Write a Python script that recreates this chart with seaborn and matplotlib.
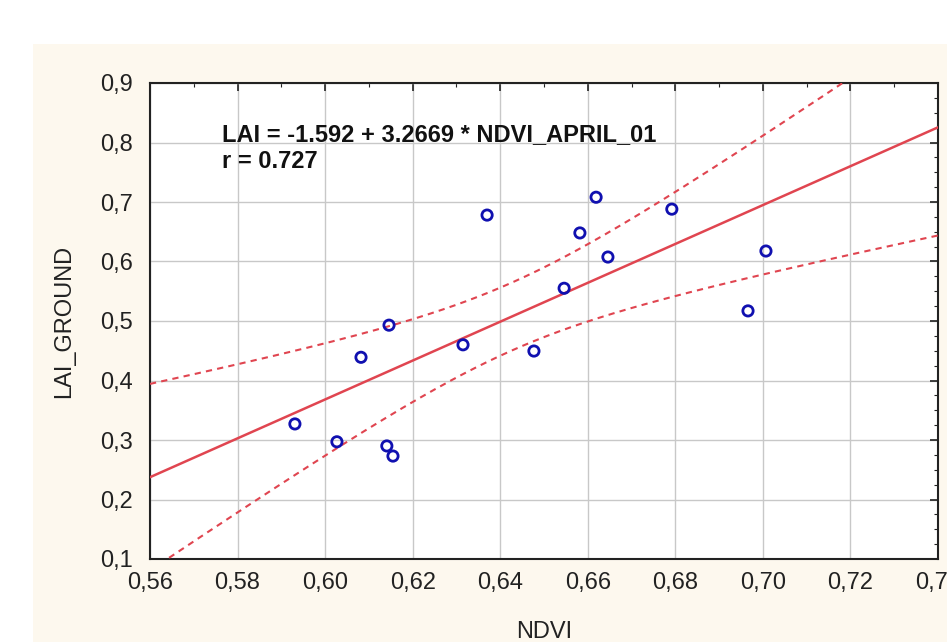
import numpy as np
import pandas as pd
import seaborn as sns
import matplotlib
matplotlib.use("Agg")
import matplotlib.pyplot as plt
from matplotlib.ticker import MultipleLocator, FuncFormatter
from matplotlib.patches import Rectangle

# values
ndvi = [0.5931, 0.6027, 0.6082, 0.6141, 0.6155, 0.6146, 0.6315, 0.6370,
        0.6477, 0.6546, 0.6582, 0.6619, 0.6646, 0.6792, 0.6966, 0.7007]
lai = [0.327, 0.297, 0.439, 0.290, 0.273, 0.493, 0.460, 0.678,
       0.4495, 0.555, 0.648, 0.708, 0.6075, 0.688, 0.517, 0.6176]

# regression as printed on the chart
intercept = -1.592
slope = 3.2669
r_value = 0.727
t_crit = 2.145  # t(0.975, n-2=14)

x_range = (0.56, 0.74)
y_range = (0.1, 0.9)

sns.set_style("white")
plt.rcParams["font.family"] = ["Liberation Sans", "DejaVu Sans"]

df = pd.DataFrame({"NDVI": ndvi, "LAI_GROUND": lai})

# fitted line and 95% confidence band of the mean
x = np.array(ndvi)
y = np.array(lai)
n = len(x)
resid = y - (intercept + slope * x)
s = np.sqrt(np.sum(resid ** 2) / (n - 2))
sxx = np.sum((x - x.mean()) ** 2)
xs = np.linspace(x_range[0], x_range[1], 200)
fit = intercept + slope * xs
half = t_crit * s * np.sqrt(1 / n + (xs - x.mean()) ** 2 / sxx)
band = pd.DataFrame({"x": xs, "fit": fit, "lo": fit - half, "hi": fit + half})

fig = plt.figure(figsize=(9.47, 6.42), dpi=100)
fig.patches.append(Rectangle((33 / 947, 0), 1, 1 - 44 / 642, transform=fig.transFigure,
                             facecolor="#fdf8ee", edgecolor="none", zorder=-10))
ax = fig.add_axes([150 / 947, 1 - 559 / 642, 788 / 947, 476 / 642])
ax.set_facecolor("white")

red = "#e04550"
sns.lineplot(data=band, x="x", y="fit", color=red, lw=1.8, ax=ax, zorder=3)
sns.lineplot(data=band, x="x", y="lo", color=red, lw=1.5, ax=ax, zorder=3,
             linestyle=(0, (3, 2.5)))
sns.lineplot(data=band, x="x", y="hi", color=red, lw=1.5, ax=ax, zorder=3,
             linestyle=(0, (3, 2.5)))
sns.scatterplot(data=df, x="NDVI", y="LAI_GROUND", ax=ax, marker="o", s=55,
                facecolor="none", edgecolor="#1010b0", linewidth=2, zorder=4)

ax.set_xlim(*x_range)
ax.set_ylim(*y_range)
ax.xaxis.set_major_locator(MultipleLocator(0.02))
ax.xaxis.set_minor_locator(MultipleLocator(0.01))
ax.yaxis.set_major_locator(MultipleLocator(0.1))
ax.yaxis.set_minor_locator(MultipleLocator(0.025))
ax.xaxis.set_major_formatter(FuncFormatter(lambda v, p: f"{v:.2f}".replace(".", ",")))
ax.yaxis.set_major_formatter(FuncFormatter(lambda v, p: f"{v:.1f}".replace(".", ",")))
ax.tick_params(which="both", direction="in", top=True, right=True, colors="#222222",
               labelcolor="#222222")
ax.tick_params(which="major", length=6, width=1.2, labelsize=17)
ax.tick_params(which="minor", length=3, width=0.8)
ax.tick_params(axis="x", which="major", pad=9)
ax.tick_params(axis="y", which="major", pad=12)
ax.grid(True, which="major", color="#c8c8c8", lw=1)
for sp in ax.spines.values():
    sp.set_color("#222222")
    sp.set_linewidth(1.5)

ax.set_xlabel("NDVI", fontsize=17, color="#222222", labelpad=20)
ax.set_ylabel("LAI_GROUND", fontsize=17, color="#222222", labelpad=18)

ax.text(0.5764, 0.833, f"LAI = {intercept} + {slope} * NDVI_APRIL_01",
        fontsize=17, fontweight="bold", color="#111111", va="top", ha="left", zorder=5)
ax.text(0.5764, 0.787, f"r = {r_value}",
        fontsize=17, fontweight="bold", color="#111111", va="top", ha="left", zorder=5)

fig.savefig("out.png", dpi=100)
